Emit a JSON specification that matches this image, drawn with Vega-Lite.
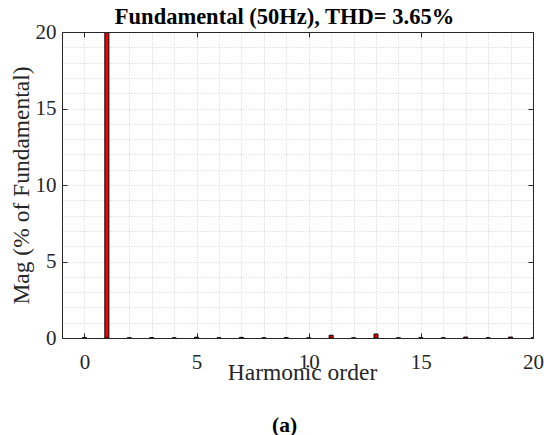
{
  "$schema": "https://vega.github.io/schema/vega-lite/v6.json",
  "width": 471,
  "height": 306,
  "autosize": "none",
  "padding": {"left": 62, "top": 32, "right": 11, "bottom": 97},
  "background": "white",
  "title": {
    "text": "(a)",
    "orient": "bottom",
    "anchor": "middle",
    "dx": -13,
    "offset": 31,
    "font": "Times New Roman",
    "fontSize": 21.5,
    "fontWeight": "bold",
    "color": "#000000"
  },
  "config": {
    "view": {"stroke": null},
    "axis": {
      "labelFont": "Times New Roman",
      "titleFont": "Times New Roman",
      "labelFontSize": 21,
      "titleFontSize": 23.5,
      "labelColor": "#262626",
      "titleColor": "#262626",
      "titleFontWeight": "normal",
      "domainColor": "#262626",
      "tickColor": "#262626",
      "domainWidth": 1,
      "tickWidth": 1,
      "labelFlush": false,
      "labelOverlap": false,
      "labelBound": false
    }
  },
  "data": {
    "values": [
      {"harmonic": 0, "mag": 0.02},
      {"harmonic": 1, "mag": 100},
      {"harmonic": 2, "mag": 0.01},
      {"harmonic": 3, "mag": 0.02},
      {"harmonic": 4, "mag": 0.01},
      {"harmonic": 5, "mag": 0.05},
      {"harmonic": 6, "mag": 0.01},
      {"harmonic": 7, "mag": 0.04},
      {"harmonic": 8, "mag": 0.01},
      {"harmonic": 9, "mag": 0.02},
      {"harmonic": 10, "mag": 0.01},
      {"harmonic": 11, "mag": 0.18},
      {"harmonic": 12, "mag": 0.01},
      {"harmonic": 13, "mag": 0.26},
      {"harmonic": 14, "mag": 0.01},
      {"harmonic": 15, "mag": 0.02},
      {"harmonic": 16, "mag": 0.01},
      {"harmonic": 17, "mag": 0.06},
      {"harmonic": 18, "mag": 0.01},
      {"harmonic": 19, "mag": 0.06},
      {"harmonic": 20, "mag": 0.01}
    ]
  },
  "resolve": {"axis": {"x": "independent", "y": "independent"}},
  "layer": [
    {
      "mark": {"type": "bar", "opacity": 0},
      "encoding": {
        "x": {
          "field": "harmonic", "type": "quantitative",
          "scale": {"domain": [-1, 20], "nice": false, "zero": false, "padding": 0},
          "axis": {
            "orient": "bottom", "values": [-1,0,1,2,3,4,5,6,7,8,9,10,11,12,13,14,15,16,17,18,19,20],
            "grid": true, "gridColor": "#cfcfcf", "gridDash": [1, 2], "gridWidth": 1,
            "labels": false, "ticks": false, "domain": false, "title": null, "zindex": 0
          }
        },
        "y": {
          "field": "mag", "type": "quantitative",
          "scale": {"domain": [0, 20], "nice": false, "padding": 0},
          "axis": {
            "orient": "left", "values": [0,1,2,3,4,5,6,7,8,9,10,11,12,13,14,15,16,17,18,19,20],
            "grid": true, "gridColor": "#cfcfcf", "gridDash": [1, 2], "gridWidth": 1,
            "labels": false, "ticks": false, "domain": false, "title": null, "zindex": 0
          }
        }
      }
    },
    {
      "mark": {"type": "bar", "color": "#ff0000", "stroke": "#000000", "strokeWidth": 1, "size": 4, "clip": true},
      "encoding": {
        "x": {
          "field": "harmonic", "type": "quantitative",
          "axis": {
            "orient": "bottom", "values": [0, 5, 10, 15, 20],
            "grid": false, "tickSize": -5, "labelPadding": 18,
            "title": "Harmonic order", "titlePadding": -12, "titleX": 240, "zindex": 1
          }
        },
        "y": {
          "field": "mag", "type": "quantitative",
          "axis": {
            "orient": "left", "values": [0, 5, 10, 15, 20],
            "grid": false, "tickSize": -5, "labelPadding": 11,
            "title": "Mag (% of Fundamental)", "titlePadding": 2, "zindex": 1
          }
        }
      }
    },
    {
      "mark": {"type": "bar", "opacity": 0},
      "encoding": {
        "x": {
          "field": "harmonic", "type": "quantitative",
          "axis": {
            "orient": "top", "values": [0, 5, 10, 15, 20],
            "grid": false, "tickSize": -5, "labels": false,
            "title": "Fundamental (50Hz), THD= 3.65%",
            "titleFontWeight": "bold", "titleFontSize": 22.5, "titleColor": "#000000",
            "titleX": 222, "titleY": -9, "titleBaseline": "alphabetic",
            "zindex": 1
          }
        },
        "y": {
          "field": "mag", "type": "quantitative",
          "axis": {
            "orient": "right", "values": [0, 5, 10, 15, 20],
            "grid": false, "tickSize": -5, "labels": false, "title": null, "zindex": 1
          }
        }
      }
    }
  ]
}
